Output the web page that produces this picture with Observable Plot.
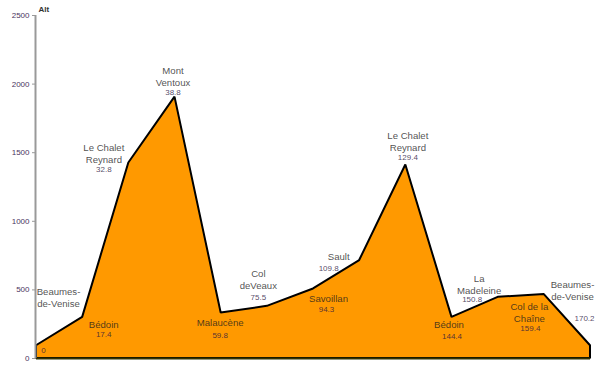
<!DOCTYPE html>
<html>
<head>
<meta charset="utf-8">
<script src="https://cdn.jsdelivr.net/npm/d3@7"></script>
<script src="https://cdn.jsdelivr.net/npm/@observablehq/plot@0.6"></script>
<style>
  html, body { margin: 0; padding: 0; background: #fff; }
  #chart svg { display: block; }
</style>
</head>
<body>
<div id="chart"></div>
<script>
// ---- data ----
const places = ["Beaumes-\nde-Venise", "Bédoin", "Le Chalet\nReynard", "Mont\nVentoux", "Malaucène",
  "Col\ndeVeaux", "Savoillan", "Sault", "Le Chalet\nReynard", "Bédoin", "La\nMadeleine",
  "Col de la\nChaîne", "Beaumes-\nde-Venise"];
const km = ["0", "17.4", "32.8", "38.8", "59.8", "75.5", "94.3", "109.8", "129.4", "144.4", "150.8", "159.4", "170.2"];
const alt = [93, 300, 1425, 1905, 332, 380, 507, 714, 1410, 300, 446, 466, 93];
const yTicks = [0, 500, 1000, 1500, 2000, 2500];
const yTitle = "Alt";

// ---- label layout (pixel offsets from each point) ----
const nameOffset = [[22, -49], [21, 7], [-25, -10], [-2, -21], [-1, 9], [-9, -27], [15, 9], [-21, -4],
  [2, -24], [-3, 7], [-19, -13], [-15, 18], [-18, -56]];
const numOffset = [[7, 5], [21, 17], [-25, 6], [-2, -5], [-1, 22], [-9, -9], [13, 20], [-31, 8],
  [2, -8], [0, 19], [-26, 2], [-14, 34], [-6, -27]];

const rows = alt.map((a, i) => ({i, alt: a, place: places[i], km: km[i]}));

const font = "'Liberation Sans', Arial, sans-serif";

const labelMarks = rows.flatMap((r, k) => [
  Plot.text([r], {x: "i", y: "alt", text: "place", dx: nameOffset[k][0], dy: nameOffset[k][1],
    fontSize: 9.6, lineHeight: 1.25, fill: "#1e1e1e", fillOpacity: 0.8, textAnchor: "middle", lineAnchor: "middle"}),
  Plot.text([r], {x: "i", y: "alt", text: "km", dx: numOffset[k][0], dy: numOffset[k][1],
    fontSize: 8, fill: "#2a1440", fillOpacity: 0.8, textAnchor: "middle", lineAnchor: "middle"})
]);

const chart = Plot.plot({
  width: 600,
  height: 375,
  marginLeft: 36,
  marginRight: 10,
  marginTop: 15,
  marginBottom: 17,
  style: {fontFamily: font, background: "#fff"},
  x: {type: "linear", domain: [0, places.length - 1], axis: null},
  y: {domain: [0, 2500], axis: null},
  marks: [
    Plot.areaY(rows, {x: "i", y: "alt", fill: "#FF9900", stroke: "#000", strokeWidth: 2, strokeLinejoin: "miter"}),
    Plot.ruleY([0], {stroke: "#333300", strokeWidth: 2}),
    Plot.ruleX([0], {y1: 0, y2: 2500, stroke: "#999", strokeWidth: 2, dx: -1}),
    Plot.axisY(yTicks, {tickSize: 3, tickPadding: 3, fontSize: 8, color: "#4a3460", stroke: "#999", label: null, tickFormat: d => String(d), dx: -1}),
    Plot.text([yTitle], {frameAnchor: "top-left", dx: 2, dy: -6, fontWeight: "bold", fontSize: 8, fill: "#333", textAnchor: "start", lineAnchor: "middle"}),
    ...labelMarks
  ]
});

document.getElementById("chart").appendChild(chart);
</script>
</body>
</html>
